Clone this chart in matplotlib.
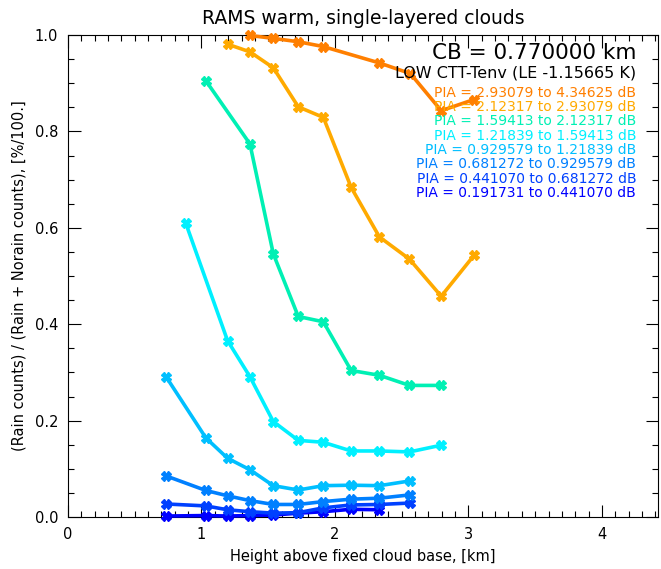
import matplotlib
matplotlib.use("Agg")
import matplotlib.pyplot as plt
from matplotlib.ticker import MultipleLocator, FormatStrFormatter

# heights above cloud base (km) and rain fraction for each PIA bin
x_a = [1.363, 1.538, 1.725, 1.913, 2.333, 2.565, 2.796, 3.040]
y_a = [0.999, 0.993, 0.986, 0.976, 0.942, 0.920, 0.843, 0.866]

x_b = [1.195, 1.363, 1.538, 1.725, 1.913, 2.121, 2.333, 2.558, 2.796, 3.045]
y_b = [0.981, 0.965, 0.932, 0.851, 0.829, 0.684, 0.581, 0.535, 0.458, 0.544]

x_c = [1.033, 1.363, 1.538, 1.725, 1.913, 2.121, 2.333, 2.558, 2.796]
y_c = [0.905, 0.774, 0.546, 0.416, 0.405, 0.304, 0.294, 0.273, 0.273]

x_d = [0.883, 1.195, 1.363, 1.538, 1.725, 1.913, 2.121, 2.333, 2.558, 2.796]
y_d = [0.609, 0.366, 0.291, 0.198, 0.159, 0.155, 0.137, 0.137, 0.135, 0.149]

x_e = [0.737, 1.033, 1.195, 1.363, 1.538, 1.725, 1.913, 2.121, 2.333, 2.565]
y_e = [0.290, 0.164, 0.122, 0.098, 0.065, 0.056, 0.065, 0.066, 0.065, 0.075]

x_f = [0.737, 1.033, 1.195, 1.363, 1.538, 1.725, 1.913, 2.121, 2.333, 2.565]
y_f = [0.085, 0.055, 0.044, 0.034, 0.026, 0.026, 0.032, 0.037, 0.039, 0.046]

x_g = [0.737, 1.033, 1.195, 1.363, 1.538, 1.725, 1.913, 2.121, 2.333, 2.565]
y_g = [0.027, 0.023, 0.015, 0.011, 0.008, 0.009, 0.019, 0.025, 0.026, 0.029]

x_h = [0.737, 1.033, 1.195, 1.363, 1.538, 1.725, 1.913, 2.121, 2.333]
y_h = [0.002, 0.003, 0.002, 0.003, 0.004, 0.008, 0.011, 0.016, 0.015]

pia_labels = [
    "PIA = 2.93079 to 4.34625 dB",
    "PIA = 2.12317 to 2.93079 dB",
    "PIA = 1.59413 to 2.12317 dB",
    "PIA = 1.21839 to 1.59413 dB",
    "PIA = 0.929579 to 1.21839 dB",
    "PIA = 0.681272 to 0.929579 dB",
    "PIA = 0.441070 to 0.681272 dB",
    "PIA = 0.191731 to 0.441070 dB",
]
colors = ["#ff7f00", "#ffaa00", "#00f0b4", "#00f0ff",
          "#00bfff", "#0080ff", "#0040ff", "#0000ff"]

series = [(x_a, y_a), (x_b, y_b), (x_c, y_c), (x_d, y_d),
          (x_e, y_e), (x_f, y_f), (x_g, y_g), (x_h, y_h)]

plt.rcParams['font.family'] = ['DejaVu Sans']

fig = plt.figure(figsize=(6.61, 5.69), dpi=100)
ax = fig.add_axes([68/661, 52/569, 590/661, 482/569])

for (xs, ys), c in zip(series[::-1], colors[::-1]):
    ax.plot(xs, ys, color=c, lw=2.6, marker='X', ms=7, mec=c, mfc=c,
            clip_on=False, zorder=3)

ax.set_xlim(0, 4.42)
ax.set_ylim(0, 1.0)
ax.xaxis.set_major_locator(MultipleLocator(1))
ax.xaxis.set_minor_locator(MultipleLocator(0.1))
ax.yaxis.set_major_locator(MultipleLocator(0.2))
ax.yaxis.set_minor_locator(MultipleLocator(0.05))
ax.yaxis.set_major_formatter(FormatStrFormatter('%.1f'))
ax.tick_params(which='both', direction='in', top=True, right=True,
               labelsize=10.5, width=0.8)
ax.tick_params(which='major', length=9, pad=7)
ax.tick_params(which='minor', length=4.5)
for s in ax.spines.values():
    s.set_linewidth(0.8)

ax.set_title("RAMS warm, single-layered clouds", fontsize=13.5, pad=8)
ax.set_xlabel("Height above fixed cloud base, [km]", fontsize=10.5, labelpad=5)
ax.set_ylabel("(Rain counts) / (Rain + Norain counts), [%/100.]", fontsize=10.5,
              labelpad=6)

ax.text(0.963, 0.963, "CB = 0.770000 km", transform=ax.transAxes,
        ha='right', va='center', fontsize=15.5)
ax.text(0.963, 0.921, "LOW CTT-Tenv (LE -1.15665 K)", transform=ax.transAxes,
        ha='right', va='center', fontsize=11.5)
for i, (lab, c) in enumerate(zip(pia_labels, colors)):
    ax.text(0.963, 0.880 - i * 0.0297, lab, transform=ax.transAxes,
            ha='right', va='center', fontsize=10, color=c)

fig.savefig("out.png", dpi=100)
